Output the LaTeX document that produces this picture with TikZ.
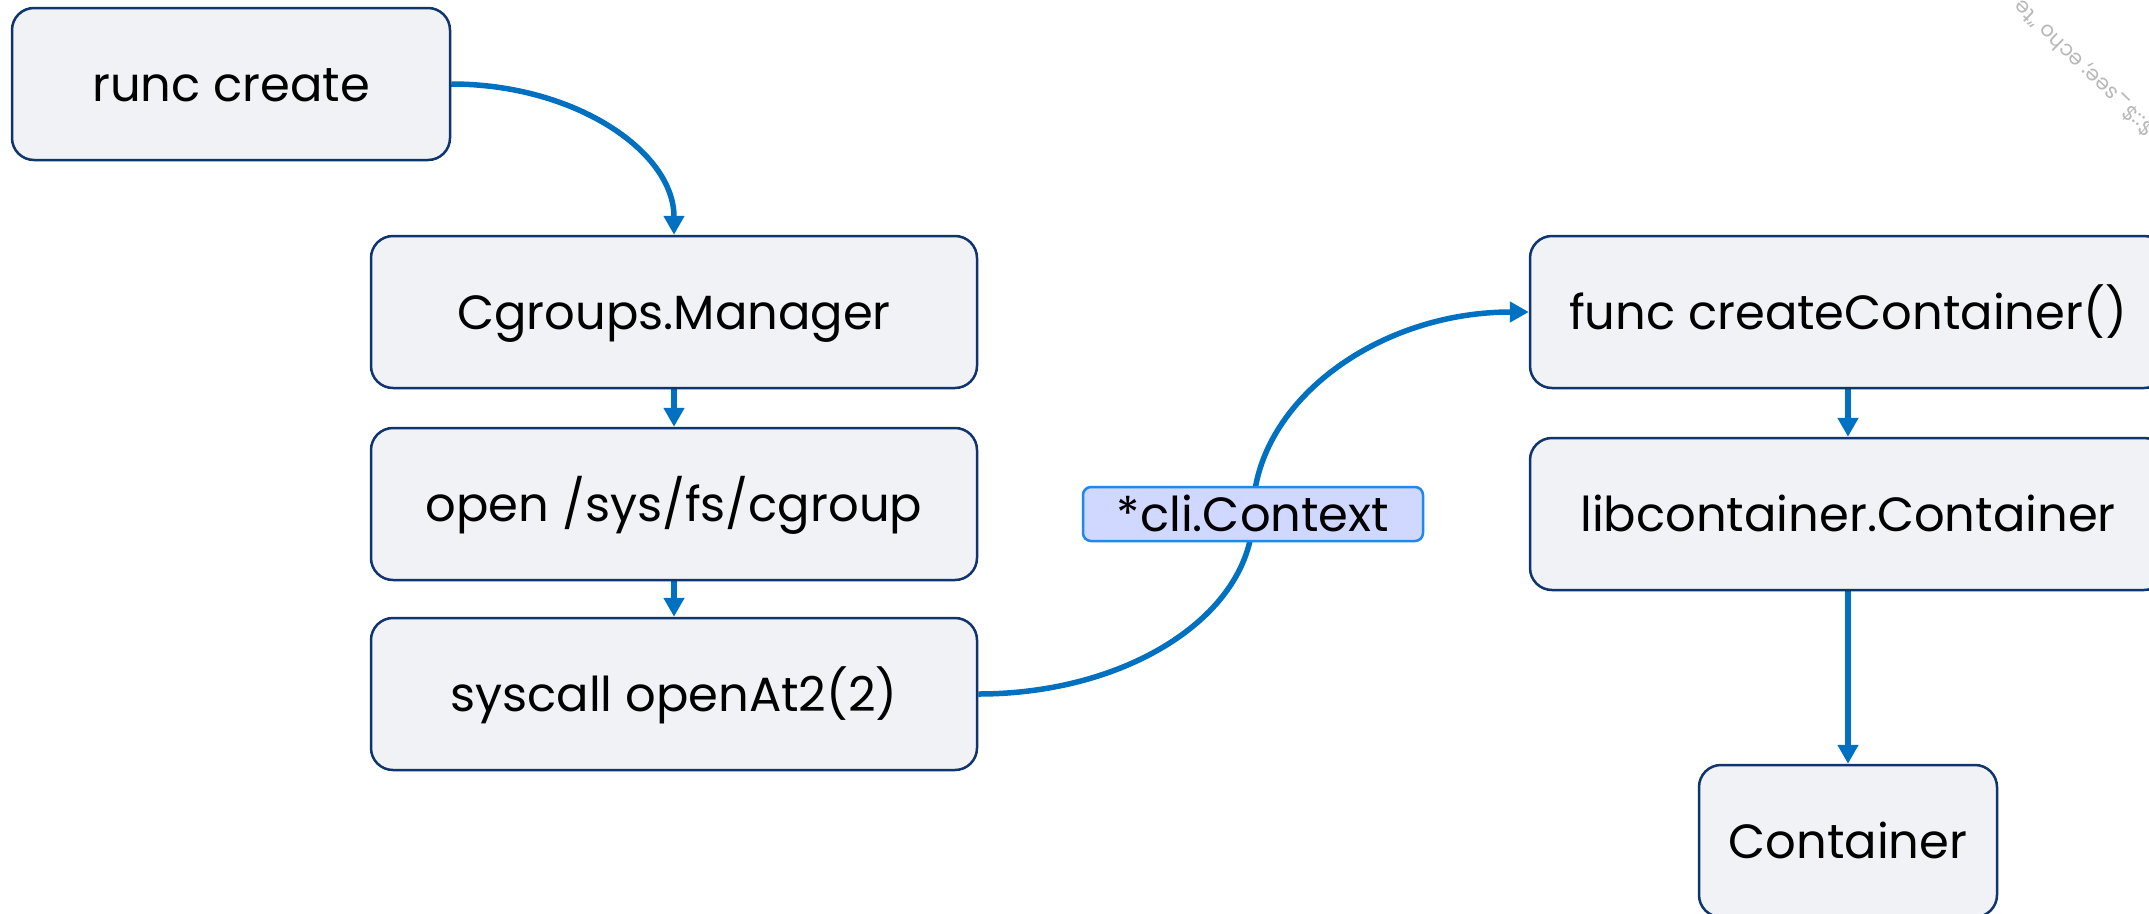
\documentclass[tikz,border=0pt]{standalone}
\usepackage{fontspec}
\setmainfont{Poppins}
\usetikzlibrary{arrows.meta,backgrounds}
\definecolor{boxfill}{RGB}{240,242,246}
\definecolor{boxline}{RGB}{16,52,110}
\definecolor{arrowc}{RGB}{0,112,192}
\definecolor{lblfill}{RGB}{208,216,255}
\definecolor{lblline}{RGB}{30,136,240}
\definecolor{wmark}{RGB}{185,185,185}
\tikzset{
  stepbox/.style={draw=boxline, line width=2.5pt, fill=boxfill, rounded corners=22pt,
    minimum height=152pt, inner sep=0pt, font=\fontsize{48}{52}\selectfont, text=black,
    text height=34pt, text depth=0pt},
  lbl/.style={draw=lblline, line width=2.5pt, fill=lblfill, rounded corners=8pt,
    minimum width=340pt, minimum height=54pt, inner sep=0pt, font=\fontsize{48}{52}\selectfont,
    text height=34pt, text depth=0pt},
  conn/.style={draw=arrowc, line width=5.5pt, -{Triangle[length=19pt,width=20pt]}},
}
\begin{document}
\begin{tikzpicture}[x=1pt,y=-1pt]
\useasboundingbox (0,0) rectangle (2149,913);
\clip (0,0) rectangle (2149,913);
\node[stepbox, minimum width=438pt] (runc) at (231,84) {runc create};
\node[stepbox, minimum width=606pt] (cg) at (674,312) {Cgroups.Manager};
\node[stepbox, minimum width=606pt] (open) at (674,504) {open /sys/fs/cgroup};
\node[stepbox, minimum width=606pt] (sys) at (674,694) {syscall openAt2(2)};
\node[stepbox, minimum width=636pt] (func) at (1848,312) {func createContainer()};
\node[stepbox, minimum width=636pt] (lib) at (1848,514) {libcontainer.Container};
\node[stepbox, minimum width=298pt] (cont) at (1848,841) {Container};
\node[lbl] (ctx) at (1253,514) {*cli.Context};
\node[text=wmark, rotate=136, font=\fontsize{21}{24}\selectfont, inner sep=0pt] (wm) at (2084,68) {\$::\$\_see; echo "te};
\begin{scope}[on background layer]
\fill[white] (0,0) rectangle (2149,913);
\draw[conn] (runc.east) .. controls +(124,0) and +(0,-83) .. (cg.north);
\draw[conn] (cg.south) -- (open.north);
\draw[conn] (open.south) -- (sys.north);
\draw[conn] (func.south) -- (lib.north);
\draw[conn] (lib.south) -- (cont.north);
\draw[conn] (sys.east) .. controls +(152,0) and +(0,99) .. (ctx.center)
  .. controls +(0,-111) and +(-152,0) .. (func.west);
\end{scope}
\end{tikzpicture}
\end{document}
